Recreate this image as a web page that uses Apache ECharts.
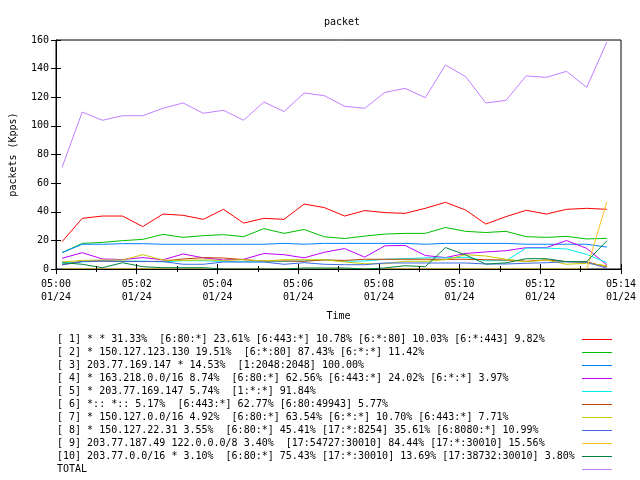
<!DOCTYPE html>
<html>
<head>
<meta charset="utf-8">
<script src="https://cdn.jsdelivr.net/npm/echarts@6/dist/echarts.min.js"></script>
<style>html,body{margin:0;padding:0;background:#fff}#c{width:640px;height:480px}</style>
</head>
<body>
<div id="c"></div>
<script>
var times = ["05:00:09","05:00:39","05:01:09","05:01:39","05:02:09","05:02:39","05:03:09","05:03:39",
  "05:04:09","05:04:39","05:05:09","05:05:39","05:06:09","05:06:39","05:07:09","05:07:39",
  "05:08:09","05:08:39","05:09:09","05:09:39","05:10:09","05:10:39","05:11:09","05:11:39",
  "05:12:09","05:12:39","05:13:09","05:13:39"];
var xTickLabels = ["05:00","05:02","05:04","05:06","05:08","05:10","05:12","05:14"];
var xDateLabel = "01/24";

var names = [
  "[ 1] * * 31.33%  [6:80:*] 23.61% [6:443:*] 10.78% [6:*:80] 10.03% [6:*:443] 9.82%",
  "[ 2] * 150.127.123.130 19.51%  [6:*:80] 87.43% [6:*:*] 11.42%",
  "[ 3] 203.77.169.147 * 14.53%  [1:2048:2048] 100.00%",
  "[ 4] * 163.218.0.0/16 8.74%  [6:80:*] 62.56% [6:443:*] 24.02% [6:*:*] 3.97%",
  "[ 5] * 203.77.169.147 5.74%  [1:*:*] 91.84%",
  "[ 6] *:: *:: 5.17%  [6:443:*] 62.77% [6:80:49943] 5.77%",
  "[ 7] * 150.127.0.0/16 4.92%  [6:80:*] 63.54% [6:*:*] 10.70% [6:443:*] 7.71%",
  "[ 8] * 150.127.22.31 3.55%  [6:80:*] 45.41% [17:*:8254] 35.61% [6:8080:*] 10.99%",
  "[ 9] 203.77.187.49 122.0.0.0/8 3.40%  [17:54727:30010] 84.44% [17:*:30010] 15.56%",
  "[10] 203.77.0.0/16 * 3.10%  [6:80:*] 75.43% [17:*:30010] 13.69% [17:38732:30010] 3.80%",
  "TOTAL"
];

var s1 = [19.1,35.4,37.0,37.0,29.6,38.4,37.5,34.7,41.7,32.1,35.4,34.7,45.4,42.9,37.0,40.8,39.4,38.9,42.4,46.6,41.2,31.4,36.6,41.0,38.4,41.7,42.4,41.7];
var s2 = [11.4,17.9,18.6,19.8,20.7,24.2,22.1,23.3,24.0,22.6,28.2,24.9,27.6,22.5,21.3,23.0,24.4,24.9,24.9,29.0,26.3,25.5,26.3,22.6,22.1,22.8,21.0,21.4];
var s3 = [11.4,17.3,17.3,17.7,17.7,17.3,17.3,17.3,17.3,17.3,17.3,17.9,17.3,17.9,17.9,17.9,17.9,17.9,17.3,17.9,17.9,17.9,17.9,17.3,17.3,17.3,17.3,15.3];
var s4 = [7.5,11.4,7.0,6.6,8.0,6.4,10.5,7.8,6.3,6.8,10.8,10.0,7.8,11.7,14.3,8.3,16.2,16.5,9.4,8.0,10.9,11.9,12.8,14.9,14.9,19.9,14.4,2.8];
var s5 = [4.0,5.0,5.5,5.5,5.5,5.0,5.8,5.8,5.2,5.0,5.0,5.2,5.6,6.5,5.4,5.6,6.8,7.2,7.8,7.8,8.2,5.8,5.8,14.6,14.6,14.0,10.2,4.4];
var s6 = [3.0,5.4,5.6,5.4,5.2,5.4,7.0,7.9,7.7,6.5,5.6,5.6,5.4,6.3,6.0,6.8,6.8,6.8,6.8,6.8,6.8,6.5,6.3,5.4,6.3,5.1,4.9,1.6];
var s7 = [4.9,6.0,6.3,6.3,10.0,6.3,6.0,6.3,6.0,6.5,5.6,6.5,6.5,6.5,4.9,3.7,3.7,5.4,5.4,6.5,10.0,9.1,6.8,5.1,6.3,3.3,4.0,2.3];
var s8 = [2.8,5.2,5.6,5.2,5.2,5.2,3.3,3.3,4.9,4.9,4.9,3.3,4.4,3.3,3.0,3.0,4.2,4.2,4.2,4.2,4.2,3.5,3.5,4.0,4.4,5.1,4.7,0.5];
var s9 = [0,0,0,0,0,0,0,0,0,0,0,0,0,0,0,0,0,0,0,0,0,0,0,0,0,0,0,47.0];
var s10 = [4.4,3.3,0.9,4.4,1.6,0.9,0.9,0.9,0.0,0.0,0.0,0.0,0.7,0.7,0.7,0.0,0.7,2.3,1.6,15.0,9.8,3.4,4.3,7.2,7.2,5.1,5.1,19.8];
var total = [71.0,109.7,103.9,107.1,107.1,112.3,116.0,108.8,110.9,103.9,116.7,110.0,123.0,121.1,113.7,112.3,123.4,126.2,119.7,142.5,134.4,116.0,117.8,134.9,133.9,138.1,126.9,158.6];

var colors = ["#ff0000","#00c000","#0080ff","#c000ff","#00eeee","#c04000","#c8c800","#4169e1","#ffc020","#008040","#c080ff"];
var allData = [s1,s2,s3,s4,s5,s6,s7,s8,s9,s10,total];

function toMin(t){ var p = t.split(":"); return (+p[0]-5)*60 + (+p[1]) + (+p[2])/60; }

var FONT = "'DejaVu Sans Mono', monospace";
var series = allData.map(function(arr, k){
  return {
    name: names[k], type: 'line', symbol: 'none', z: 2,
    lineStyle: {width: 1, color: colors[k]}, itemStyle: {color: colors[k]},
    data: arr.map(function(v, i){ return [toMin(times[i]), v]; })
  };
});

var chart = echarts.init(document.getElementById('c'), null, {renderer: 'canvas'});
chart.setOption({
  animation: false,
  backgroundColor: '#fff',
  title: {text: 'packet', left: 337, top: 12, textAlign: 'center',
    textStyle: {fontFamily: FONT, fontSize: 10, fontWeight: 'normal', color: '#000'}},
  grid: {left: 53, right: 19, top: 40, bottom: 211, show: true, borderColor: '#000', borderWidth: 1},
  legend: {
    orient: 'vertical', left: 57, top: 333, align: 'right', itemGap: 0, padding: 0,
    itemWidth: 30, itemHeight: 13, height: 147,
    data: names.map(function(n, k){ return {name: n, icon: 'path://M0,6 L30,6 L30,7 L0,7 Z', itemStyle: {color: colors[k]}}; }),
    formatter: function(n){ return '{a|' + n + '}'; },
    textStyle: {fontFamily: FONT, fontSize: 10, color: '#000', lineHeight: 13,
      rich: {a: {width: 520, align: 'left', fontFamily: FONT, fontSize: 10, color: '#000', lineHeight: 13}}},
    selectedMode: false
  },
  xAxis: [{
    type: 'value', min: 0, max: 14, interval: 2, position: 'bottom',
    name: 'Time', nameLocation: 'middle', nameGap: 42,
    nameTextStyle: {fontFamily: FONT, fontSize: 10, color: '#000'},
    axisLine: {show: true, lineStyle: {color: '#000', width: 1}},
    axisTick: {show: true, inside: true, length: 5, lineStyle: {color: '#000'}},
    minorTick: {show: true, splitNumber: 2, length: 3, lineStyle: {color: '#000'}},
    splitLine: {show: false},
    axisLabel: {fontFamily: FONT, fontSize: 10, color: '#000', margin: 9, lineHeight: 13, showMaxLabel: true,
      formatter: function(v){ var idx = Math.round(v/2); return xTickLabels[idx] + '\n' + xDateLabel; }},
    z: 10
  }, {
    type: 'value', min: 0, max: 14, interval: 2, position: 'top',
    axisLine: {show: false},
    axisTick: {show: true, inside: true, length: 5, lineStyle: {color: '#000'}},
    minorTick: {show: true, splitNumber: 2, length: 3, lineStyle: {color: '#000'}},
    splitLine: {show: false}, axisLabel: {show: false}
  }],
  yAxis: [{
    type: 'value', min: 0, max: 160, interval: 20, position: 'left',
    name: 'packets (Kpps)', nameLocation: 'middle', nameGap: 38, nameRotate: 90,
    nameTextStyle: {fontFamily: FONT, fontSize: 10, color: '#000'},
    axisLine: {show: true, lineStyle: {color: '#000', width: 1}},
    axisTick: {show: true, inside: true, length: 5, lineStyle: {color: '#000'}},
    splitLine: {show: false},
    axisLabel: {fontFamily: FONT, fontSize: 10, color: '#000', margin: 7},
    z: 10
  }, {
    type: 'value', min: 0, max: 160, interval: 20, position: 'right',
    axisLine: {show: false},
    axisTick: {show: true, inside: true, length: 5, lineStyle: {color: '#000'}},
    splitLine: {show: false}, axisLabel: {show: false}
  }],
  series: series
});
</script>
</body>
</html>
